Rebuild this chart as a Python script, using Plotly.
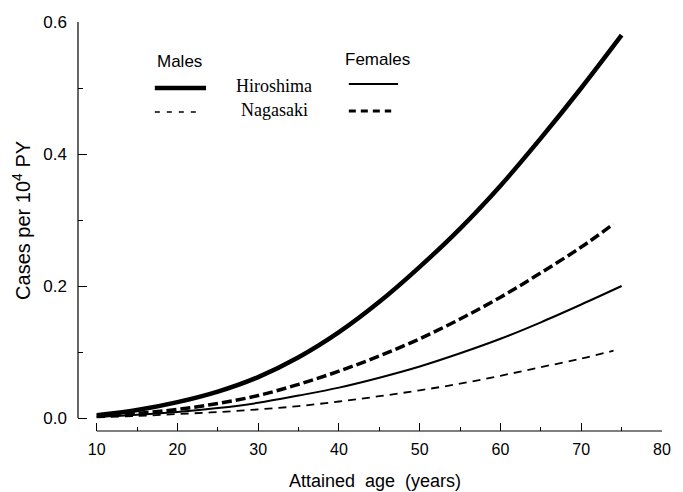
import plotly.graph_objects as go

# Fitted incidence curves (cases per 10^4 person-years) by attained age
ages_mh = [10, 15, 20, 25, 30, 35, 40, 45, 50, 55, 60, 65, 70, 75]
males_hiroshima = [0.004, 0.012, 0.024, 0.040, 0.062, 0.092, 0.130, 0.176, 0.229, 0.287, 0.352, 0.424, 0.500, 0.580]

ages_fn = [10, 15, 20, 25, 30, 35, 40, 45, 50, 55, 60, 65, 70, 74]
females_nagasaki = [0.003, 0.007, 0.013, 0.022, 0.034, 0.051, 0.071, 0.094, 0.120, 0.150, 0.183, 0.220, 0.259, 0.294]

ages_fh = [10, 15, 20, 25, 30, 35, 40, 45, 50, 55, 60, 65, 70, 75]
females_hiroshima = [0.002, 0.005, 0.009, 0.015, 0.023, 0.034, 0.046, 0.061, 0.078, 0.098, 0.120, 0.145, 0.172, 0.200]

ages_mn = [10, 15, 20, 25, 30, 35, 40, 45, 50, 55, 60, 65, 70, 74]
males_nagasaki = [0.001, 0.003, 0.006, 0.009, 0.013, 0.018, 0.025, 0.033, 0.042, 0.052, 0.064, 0.077, 0.090, 0.102]

x_ticks = [10, 20, 30, 40, 50, 60, 70, 80]
y_ticks = [0.0, 0.2, 0.4, 0.6]
y_tick_text = ["0.0", "0.2", "0.4", "0.6"]

W, H = 683, 492
ML, MR, MT, MB = 78, 12, 22, 61
PW, PH = W - ML - MR, H - MT - MB


def px(x):
    return (x - ML) / PW


def py(y):
    return (H - MB - y) / PH


SANS = "Liberation Sans, Arial, sans-serif"
SERIF = "Liberation Serif, Times New Roman, serif"

fig = go.Figure()
fig.add_trace(go.Scatter(x=ages_mh, y=males_hiroshima, mode="lines", line_shape="spline",
                         line=dict(color="black", width=4.5)))
fig.add_trace(go.Scatter(x=ages_fn, y=females_nagasaki, mode="lines", line_shape="spline",
                         line=dict(color="black", width=3.5, dash="10px,4px")))
fig.add_trace(go.Scatter(x=ages_fh, y=females_hiroshima, mode="lines", line_shape="spline",
                         line=dict(color="black", width=2)))
fig.add_trace(go.Scatter(x=ages_mn, y=males_nagasaki, mode="lines", line_shape="spline",
                         line=dict(color="black", width=1.8, dash="8px,6px")))

shapes = [
    # axis lines limited to the data extent
    dict(type="line", xref="paper", yref="y", x0=0, x1=0, y0=0, y1=0.6,
         line=dict(color="black", width=1.2)),
    dict(type="line", xref="x", yref="paper", x0=10, x1=80, y0=0, y1=0,
         line=dict(color="black", width=1.2)),
    # key line samples
    dict(type="line", xref="paper", yref="paper", x0=px(156), x1=px(208), y0=py(88), y1=py(88),
         line=dict(color="black", width=4.5)),
    dict(type="line", xref="paper", yref="paper", x0=px(156), x1=px(202), y0=py(112), y1=py(112),
         line=dict(color="black", width=1.5, dash="5px,7px")),
    dict(type="line", xref="paper", yref="paper", x0=px(353), x1=px(403), y0=py(84), y1=py(84),
         line=dict(color="black", width=2)),
    dict(type="line", xref="paper", yref="paper", x0=px(353), x1=px(396), y0=py(111), y1=py(111),
         line=dict(color="black", width=3, dash="7px,5px")),
]

annotations = [
    dict(text="Males", x=px(156), y=py(61), xanchor="left", yanchor="middle",
         font=dict(family=SANS, size=17, color="black")),
    dict(text="Females", x=px(347), y=py(60), xanchor="left", yanchor="middle",
         font=dict(family=SANS, size=17, color="black")),
    dict(text="Hiroshima", x=px(236), y=py(86), xanchor="left", yanchor="middle",
         font=dict(family=SERIF, size=18, color="black")),
    dict(text="Nagasaki", x=px(241), y=py(110), xanchor="left", yanchor="middle",
         font=dict(family=SERIF, size=18, color="black")),
    dict(text="Attained\u00a0\u00a0age\u00a0\u00a0(years)", x=px(380), y=py(481),
         xanchor="center", yanchor="middle",
         font=dict(family=SANS, size=18, color="black")),
    dict(text="Cases per 10<sup>4</sup> PY", x=px(20), y=py(220), textangle=-90,
         xanchor="center", yanchor="middle",
         font=dict(family=SANS, size=20, color="black")),
]
for a in annotations:
    a.update(xref="paper", yref="paper", showarrow=False)

fig.update_layout(
    width=W, height=H,
    margin=dict(l=ML, r=MR, t=MT, b=MB, pad=0),
    paper_bgcolor="white", plot_bgcolor="white",
    showlegend=False,
    shapes=shapes,
    annotations=annotations,
    xaxis=dict(range=[10 - 19 / 8.2, 80], tickvals=x_ticks, ticks="inside", ticklen=8,
               tickwidth=1.2, tickcolor="black", showgrid=False, zeroline=False, showline=False,
               tickfont=dict(family=SANS, size=16, color="black"), ticklabelstandoff=7,
               minor=dict(tickvals=[15, 25, 35, 45, 55, 65, 75], ticks="inside", ticklen=4,
                          tickcolor="black", tickwidth=1)),
    yaxis=dict(range=[-13 / 660, 0.6], tickvals=y_ticks, ticktext=y_tick_text, ticks="inside",
               ticklen=9, tickwidth=1.2, tickcolor="black", showgrid=False, zeroline=False,
               showline=False, tickfont=dict(family=SANS, size=17, color="black"),
               ticklabelstandoff=10,
               minor=dict(tickvals=[0.1, 0.3, 0.5], ticks="inside", ticklen=5,
                          tickcolor="black", tickwidth=1)),
)

fig.write_html("out.html")
